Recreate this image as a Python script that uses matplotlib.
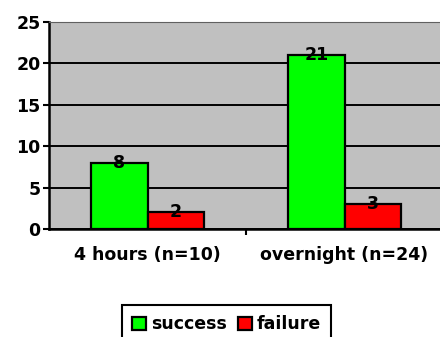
import numpy as np
import matplotlib.pyplot as plt

categories = ['4 hours (n=10)', 'overnight (n=24)']
success = [8, 21]
failure = [2, 3]

fig = plt.figure(figsize=(4.4, 3.37), dpi=100)
ax = fig.add_axes([0.1114, 0.3205, 0.8955, 0.6142])
ax.set_facecolor('#C0C0C0')

x = np.arange(len(categories)) + 0.5
w = 0.285
b1 = ax.bar(x - w / 2, success, w, color='#00FF00', edgecolor='black', linewidth=1.6, label='success', zorder=3)
b2 = ax.bar(x + w / 2, failure, w, color='#FF0000', edgecolor='black', linewidth=1.6, label='failure', zorder=3)

for bars, vals in ((b1, success), (b2, failure)):
    for r, v in zip(bars, vals):
        ax.text(r.get_x() + r.get_width() / 2, v, str(v), ha='center', va='center',
                fontsize=12.5, fontweight='bold', zorder=4)

ax.set_xlim(0, 2)
ax.set_ylim(0, 25)
ax.set_yticks([0, 5, 10, 15, 20, 25])
ax.yaxis.grid(True, color='black', linewidth=1.4, zorder=0)
ax.set_axisbelow(True)

# category labels centred, tick marks on the boundaries
ax.set_xticks([1])
ax.set_xticklabels([])
ax.set_xticks(x, minor=True)
ax.set_xticklabels(categories, minor=True, fontsize=12.5, fontweight='bold')
ax.tick_params(axis='x', which='minor', length=0, pad=12)
ax.tick_params(axis='x', which='major', length=4, width=1.5, direction='out')
ax.tick_params(axis='y', length=4, width=1.5, labelsize=12.5, pad=2)
for lab in ax.get_yticklabels():
    lab.set_fontweight('bold')

ax.spines['left'].set_linewidth(1.8)
ax.spines['bottom'].set_linewidth(1.8)
ax.spines['top'].set_color('#606060')
ax.spines['right'].set_visible(False)

leg = fig.legend(loc='upper center', bbox_to_anchor=(0.515, 0.121), ncol=2, frameon=True,
                 fancybox=False, edgecolor='black', framealpha=1,
                 prop={'weight': 'bold', 'size': 12.5}, handlelength=0.8, handleheight=0.8,
                 handletextpad=0.3, columnspacing=0.6, borderpad=0.6)
leg.get_frame().set_linewidth(1.5)

fig.savefig('out.png', dpi=100)
